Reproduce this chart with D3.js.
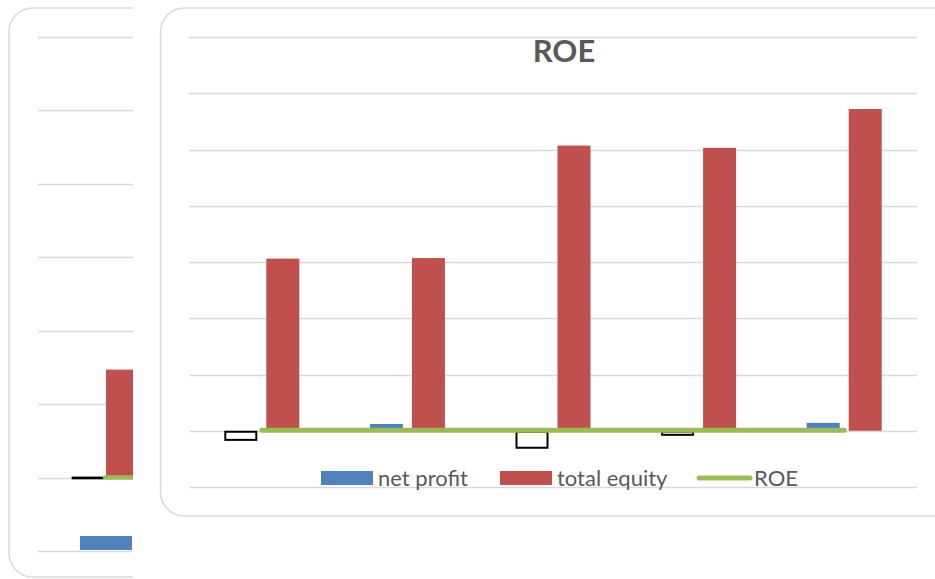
<!DOCTYPE html>
<html>
<head>
<meta charset="utf-8">
<script src="https://cdn.jsdelivr.net/npm/d3@7"></script>
<style>
  html, body { margin: 0; padding: 0; background: #ffffff; }
  svg { display: block; }
</style>
</head>
<body>
<svg id="chart" width="935" height="579"></svg>
<script>
// ---------- data (main chart) ----------
const categories = ["1", "2", "3", "4", "5"];
const netProfit = [-18, 12, -32, -9, 14];
const totalEquity = [306, 307, 507, 503, 572];
const roe = [-0.059, 0.039, -0.063, -0.018, 0.024];
const yTicks = [-100, 0, 100, 200, 300, 400, 500, 600, 700];
const seriesNames = ["net profit", "total equity", "ROE"];
const chartTitle = "ROE";

// ---------- data (partially hidden chart behind) ----------
const leftCategories = ["1", "2", "3", "4", "5"];
const leftProfit = [-0.01];
const leftEquity = [1.47];
const leftRoe = [0, 0];
const leftTicks = [-1, 0, 1, 2, 3, 4, 5, 6];

const C = { blue: "#4f81bd", red: "#c0504d", green: "#9bbb59", grid: "#d9d9d9", text: "#595959", border: "#d9d9d9" };
const svg = d3.select("#chart");

// ================= left (background) chart =================
const clip = svg.append("defs").append("clipPath").attr("id", "leftClip");
clip.append("rect").attr("x", 0).attr("y", 0).attr("width", 133).attr("height", 579);
const L = svg.append("g").attr("clip-path", "url(#leftClip)");
L.append("rect").attr("x", 9).attr("y", 8).attr("width", 700).attr("height", 569)
  .attr("rx", 24).attr("fill", "#fff").attr("stroke", C.border).attr("stroke-width", 1.5);

const ly = d3.scaleLinear().domain([-1, 6]).range([551, 37]);
const lx0 = d3.scaleBand().domain(leftCategories).range([38, 38 + 134 * leftCategories.length]);
const lx1 = d3.scaleBand().domain(["p", "e"]).range([0, lx0.bandwidth()]).paddingInner(0.06).paddingOuter(0.98);

L.selectAll(".lgrid").data(leftTicks).join("line")
  .attr("x1", 38).attr("x2", 720)
  .attr("y1", d => Math.round(ly(d)) + 0.5).attr("y2", d => Math.round(ly(d)) + 0.5)
  .attr("stroke", C.grid).attr("stroke-width", 1.5);

L.selectAll(".lp").data(leftProfit).join("rect")
  .attr("x", (d, i) => lx0(leftCategories[i]) + lx1("p"))
  .attr("y", d => ly(Math.max(0, d)) - 1)
  .attr("width", lx1.bandwidth())
  .attr("height", d => Math.abs(ly(d) - ly(0)) + 2)
  .attr("fill", "#000");

L.selectAll(".le").data(leftEquity).join("rect")
  .attr("x", (d, i) => lx0(leftCategories[i]) + lx1("e"))
  .attr("y", d => ly(d))
  .attr("width", lx1.bandwidth())
  .attr("height", d => ly(0) - ly(d))
  .attr("fill", C.red);

L.append("path")
  .datum(leftRoe)
  .attr("d", d3.line().x((d, i) => lx0(leftCategories[i]) + lx0.bandwidth() / 2).y(d => ly(d)))
  .attr("fill", "none").attr("stroke", C.green).attr("stroke-width", 4.5).attr("stroke-linecap", "round");

// left legend swatch (text hidden beyond the clip)
L.append("rect").attr("x", 80).attr("y", 536).attr("width", 52).attr("height", 14).attr("fill", C.blue);

// ================= main chart =================
const M = svg.append("g");
M.append("rect").attr("x", 160.5).attr("y", 8).attr("width", 800).attr("height", 508)
  .attr("rx", 24).attr("fill", "#fff").attr("stroke", C.border).attr("stroke-width", 1.5);

const y = d3.scaleLinear().domain([-100, 700]).range([487, 37]);
const x0 = d3.scaleBand().domain(categories).range([189, 917]);
const x1 = d3.scaleBand().domain(["profit", "equity"]).range([0, x0.bandwidth()]).paddingInner(0.214).paddingOuter(0.84);

M.selectAll(".grid").data(yTicks).join("line")
  .attr("x1", 189).attr("x2", 917)
  .attr("y1", d => Math.round(y(d)) + 0.5).attr("y2", d => Math.round(y(d)) + 0.5)
  .attr("stroke", C.grid).attr("stroke-width", 1.5);

// title
M.append("text").attr("x", 564).attr("y", 62).attr("text-anchor", "middle")
  .attr("font-family", "Lato, 'Open Sans', sans-serif").attr("font-weight", "bold")
  .attr("font-size", 31).attr("fill", C.text).text(chartTitle);

// equity bars
M.selectAll(".eq").data(totalEquity).join("rect")
  .attr("x", (d, i) => x0(categories[i]) + x1("equity"))
  .attr("y", d => y(d))
  .attr("width", x1.bandwidth())
  .attr("height", d => y(0) - y(d))
  .attr("fill", C.red);

// profit bars (inverted if negative: white with black outline)
M.selectAll(".np").data(netProfit).join("rect")
  .attr("x", (d, i) => x0(categories[i]) + x1("profit") + (d < 0 ? 1 : 0))
  .attr("y", d => d < 0 ? y(0) + 1 : y(d))
  .attr("width", d => x1.bandwidth() - (d < 0 ? 2 : 0))
  .attr("height", d => Math.abs(y(d) - y(0)) - (d < 0 ? 2 : 0))
  .attr("fill", d => d < 0 ? "#fff" : C.blue)
  .attr("stroke", d => d < 0 ? "#000" : "none")
  .attr("stroke-width", 2);

// ROE line
M.append("path").datum(roe)
  .attr("d", d3.line().x((d, i) => x0(categories[i]) + x0.bandwidth() / 2).y(d => y(d) - 0.5))
  .attr("fill", "none").attr("stroke", C.green).attr("stroke-width", 5).attr("stroke-linecap", "round");

// legend
const legendY = 478;
const lg = M.append("g").attr("font-family", "Lato, 'Open Sans', sans-serif").attr("font-size", 22).attr("fill", C.text);
const legendItems = [
  { name: seriesNames[0], type: "rect", color: C.blue, x: 321 },
  { name: seriesNames[1], type: "rect", color: C.red, x: 500 },
  { name: seriesNames[2], type: "line", color: C.green, x: 697 }
];
legendItems.forEach(it => {
  if (it.type === "rect") {
    lg.append("rect").attr("x", it.x).attr("y", legendY - 7).attr("width", 52).attr("height", 14).attr("fill", it.color);
  } else {
    lg.append("line").attr("x1", it.x + 2).attr("x2", it.x + 53).attr("y1", legendY).attr("y2", legendY)
      .attr("stroke", it.color).attr("stroke-width", 5).attr("stroke-linecap", "round");
  }
  lg.append("text").attr("x", it.x + 57).attr("y", legendY + 8).text(it.name);
});
</script>
</body>
</html>
